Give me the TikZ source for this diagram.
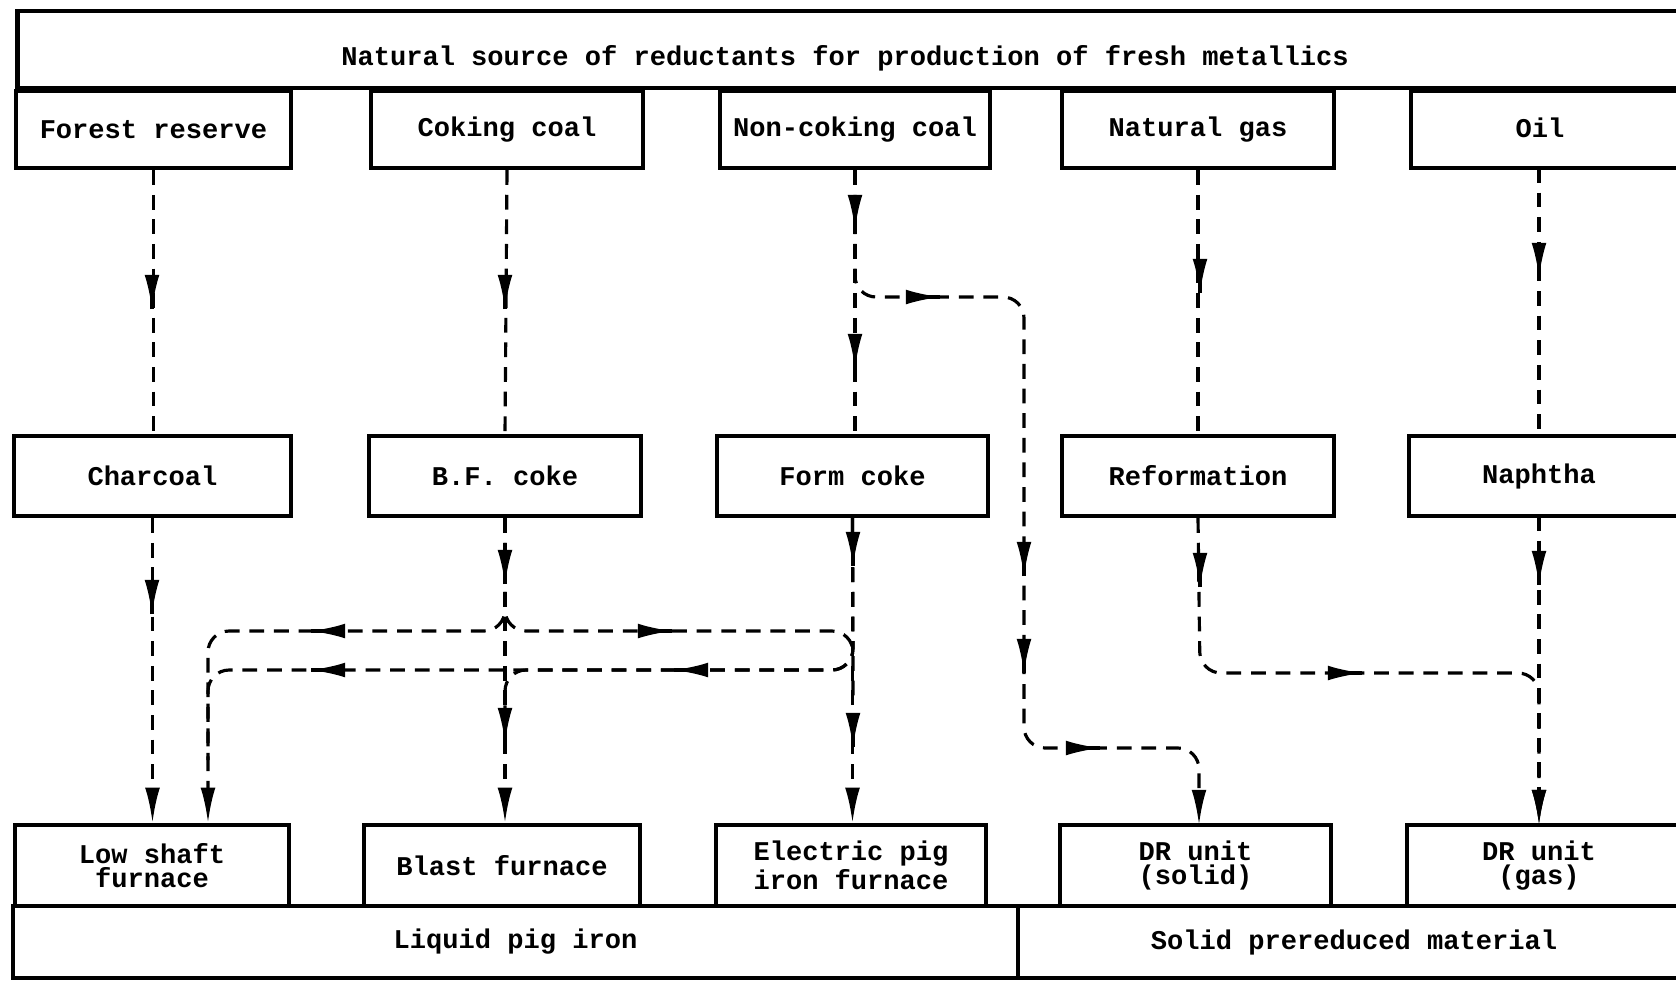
\documentclass[tikz,border=0pt]{standalone}
\usepackage{fontspec}
\newfontfamily\tw{Liberation Mono}
\usetikzlibrary{arrows.meta}
\tikzset{
  txt/.style={inner sep=0pt, align=center, font=\tw\bfseries\fontsize{7.7}{7}\selectfont},
  box/.style={draw, line width=1.2pt, inner sep=0pt, align=center,
    font=\tw\bfseries\fontsize{7.7}{7}\selectfont},
  dl/.style={line width=0.9pt, dash pattern=on 4.2pt off 2.8pt, rounded corners=6pt},
  endtip/.style={-{Latex[length=10pt,width=4.2pt]}},
  tip/.style={solid, line width=0.9pt, -{Latex[length=10pt,width=4.2pt]}},
}
\newcommand\tipd[2]{\draw[tip] (#1,#2-1) -- (#1,#2);}
\newcommand\tipl[2]{\draw[tip] (#1+1,#2) -- (#1,#2);}
\newcommand\tipr[2]{\draw[tip] (#1-1,#2) -- (#1,#2);}
\begin{document}
\begin{tikzpicture}[x=0.01cm,y=-0.01cm]
\useasboundingbox (0,0) rectangle (1676,981);
% top
\node[box, minimum width=16.72cm, minimum height=0.77cm] (top) at (854,49.5) {};
\node[txt] (topt) at (845,58) {Natural source of reductants for production of fresh metallics};
% row 1
\node[box, minimum width=2.75cm, minimum height=0.77cm] (fr) at (153.5,129.5) {Forest reserve};
\node[box, minimum width=2.72cm, minimum height=0.77cm] (cc) at (507,129.5) {Coking coal};
\node[box, minimum width=2.70cm, minimum height=0.77cm] (nc) at (855,129.5) {Non-coking coal};
\node[box, minimum width=2.72cm, minimum height=0.77cm] (ng) at (1198,129.5) {Natural gas};
\node[box, minimum width=2.79cm, minimum height=0.77cm] (oil) at (1550.5,129.5) {};
\node[txt] (oilt) at (1540,128) {Oil};
% row 2
\node[box, minimum width=2.77cm, minimum height=0.80cm] (ch) at (152.5,476) {Charcoal};
\node[box, minimum width=2.72cm, minimum height=0.80cm] (bfc) at (505,476) {B.F. coke};
\node[box, minimum width=2.71cm, minimum height=0.80cm] (fc) at (852.5,476) {Form coke};
\node[box, minimum width=2.72cm, minimum height=0.80cm] (ref) at (1198,476) {Reformation};
\node[box, minimum width=2.81cm, minimum height=0.80cm] (nap) at (1549.5,476) {};
\node[txt] (napt) at (1539,476) {Naphtha};
% row 3
\node[box, minimum width=2.74cm, minimum height=0.81cm] (lsf) at (152,865.5) {Low shaft\\furnace};
\node[box, minimum width=2.76cm, minimum height=0.81cm] (bf) at (502,865.5) {Blast furnace};
\node[box, minimum width=2.70cm, minimum height=0.81cm] (epf) at (851,865.5) {Electric pig\\iron furnace};
\node[box, minimum width=2.71cm, minimum height=0.81cm] (drs) at (1195.5,865.5) {DR unit\\(solid)};
\node[box, minimum width=2.83cm, minimum height=0.81cm] (drg) at (1548.5,865.5) {};
\node[txt] (drgt) at (1539,865.5) {DR unit\\(gas)};
% bottom
\node[box, minimum width=10.05cm, minimum height=0.72cm] (lpi) at (515.5,942) {Liquid pig iron};
\node[box, minimum width=6.72cm, minimum height=0.72cm] (spm) at (1354,942) {Solid prereduced material};

\coordinate (xA) at (208,0);

% column 1
\draw[dl] (fr.south) -- (fr.south |- ch.north);
\tipd{152}{310}
\draw[dl,endtip] (ch.south) -- (ch.south |- lsf.north);
\tipd{152}{615}
% column 2
\draw[dl] (cc.south) -- (bfc.south |- bfc.north);
\tipd{505}{310}
\draw[dl,endtip] (bfc.south) -- (bfc.south |- bf.north);
\tipd{505}{585}
\tipd{505}{743}
% column 3
\draw[dl] (nc.south) -- (nc.south |- fc.north);
\tipd{855}{230}
\tipd{855}{369}
\draw[dl,endtip] (fc.south) -- (fc.south |- epf.north);
\tipd{853}{567}
\tipd{853}{748}
% non-coking branch to DR solid
\draw[dl,endtip] (nc.south) -- (855,297) -- (1024,297) -- (1024,748) -- (1199,748) -- (1199,825);
\tipr{941}{297}
\tipd{1024}{577}
\tipd{1024}{674}
\tipr{1101}{748}
% column 4
\draw[dl] (ng.south) -- (ng.south |- ref.north);
\tipd{1200}{294}
\draw[dl,endtip] (ref.south) -- (1200,673) -- (1539,673) -- (1539,825);
\tipd{1200}{588}
\tipr{1363}{673}
% column 5
\draw[dl] (1539,168) -- (1539,436);
\tipd{1539}{278}
\draw[dl,endtip] (1539,516) -- (1539,825);
\tipd{1539}{586}
% coke crossings
\draw[dl,endtip] (bfc.south) -- (505,631) -- (208,631) -- (xA |- lsf.north);
\tipl{310}{631}
\draw[dl] (bfc.south) -- (505,631) -- (853,631) -- (853,700);
\tipr{673}{631}
\draw[dl] (fc.south) -- (853,670) -- (208,670) -- (208,760);
\tipl{673}{670}
\tipl{310}{670}
\draw[dl] (fc.south) -- (853,670) -- (505,670) -- (505,720);
\end{tikzpicture}
\end{document}
